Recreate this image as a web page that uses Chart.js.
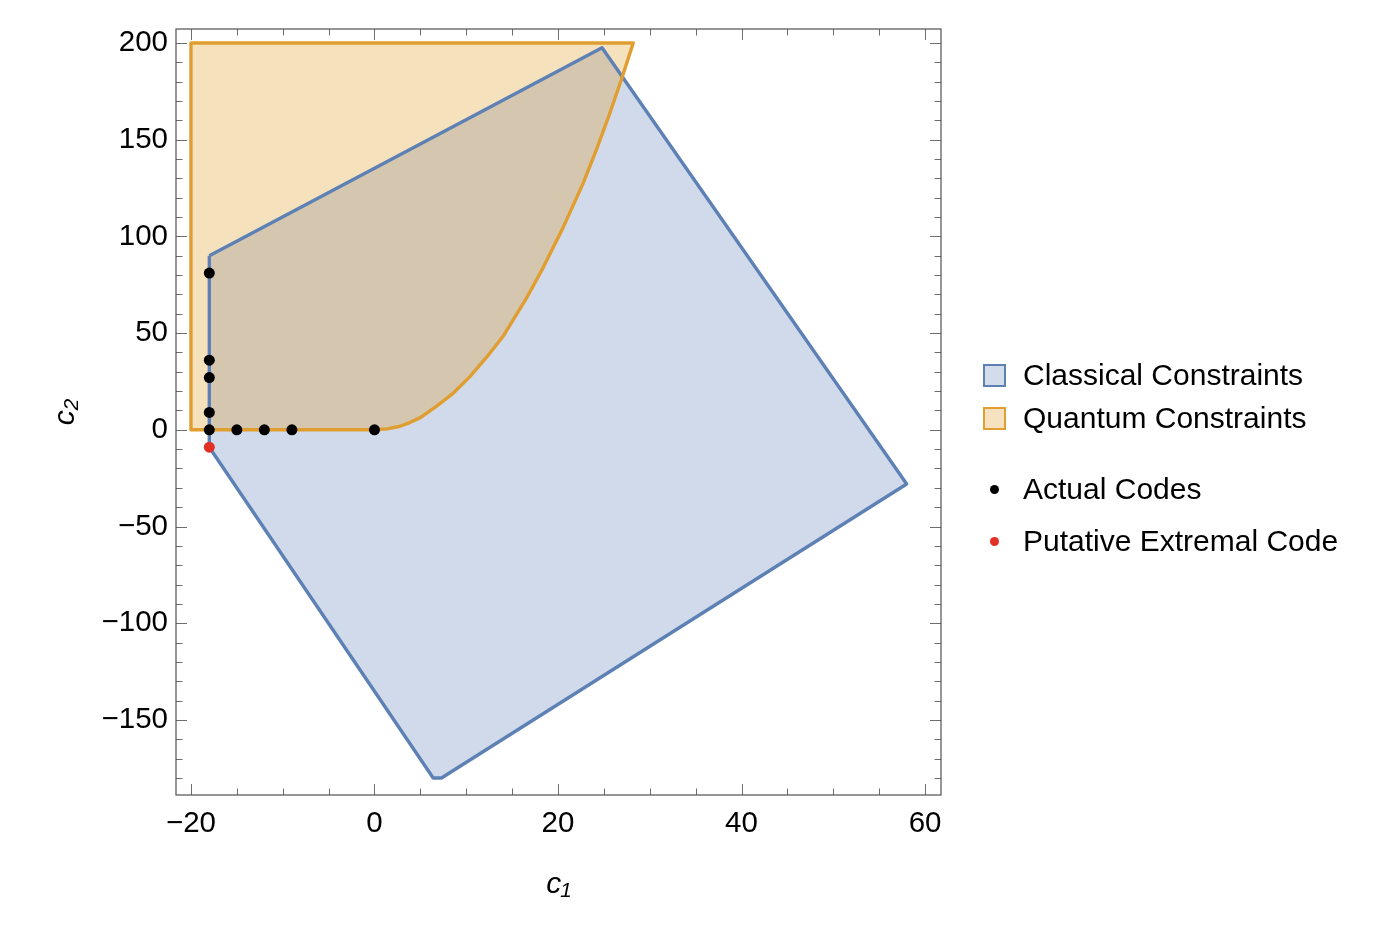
<!DOCTYPE html>
<html>
<head>
<meta charset="utf-8">
<title>Classical and quantum constraints</title>
<script src="https://cdn.jsdelivr.net/npm/chart.js@4.4.1/dist/chart.umd.min.js"></script>
<style>
  html, body { margin: 0; padding: 0; background: #fff; }
  #wrap { position: relative; width: 1380px; height: 940px; }
  #legend { position: absolute; left: 0; top: 0; font-family: 'Liberation Sans', Arial, sans-serif; font-size: 30px; color: #000; }
  .row { position: absolute; left: 983px; height: 36px; display: flex; align-items: center; transform: translateY(-50%); white-space: nowrap; }
  .box { width: 19px; height: 19px; border: 2px solid; margin-right: 17px; }
  .dot { width: 9px; height: 9px; border-radius: 50%; margin: 0 24px 0 7px; }
</style>
</head>
<body>
<div id="wrap">
  <canvas id="chart" width="1380" height="940"></canvas>
  <div id="legend"></div>
</div>
<script>
// Data

// classical constraints polygon (closed)
const classicalC1 = [-18, 24.8, 58, 7.3, 6.4, -18, -18];
const classicalC2 = [90, 197.5, -28, -180, -180, -9, 90];

// quantum constraints: left and bottom edges, the curve, then the top edge
const quantumC1 = [-20, -20, 0, 1.4, 2.7, 3.8, 5, 6.7, 8.6, 10.4, 12.2, 14, 16.5, 18.4, 20.5, 22.7, 24.2, 25.6, 26.9, 28.2, -20];
const quantumC2 = [200, 0, 0, 0.5, 1.7, 3.6, 6.3, 12, 19, 27.5, 37.4, 48.2, 67.5, 84, 104, 127, 145, 163, 181, 200, 200];

// codes
const actualC1 = [-18, -18, -18, -18, -18, -15, -12, -9, 0];
const actualC2 = [81, 36, 27, 9, 0, 0, 0, 0, 0];
const putativeC1 = [-18];
const putativeC2 = [-9];

// axis ticks
const xTicks = [-20, 0, 20, 40, 60];
const yTicks = [-150, -100, -50, 0, 50, 100, 150, 200];

const blue = 'rgb(94,129,181)';
const orange = 'rgb(224,158,48)';
const fontFamily = "'Liberation Sans', Arial, sans-serif";

function toPoints(xs, ys) {
  return xs.map(function (x, i) { return { x: x, y: ys[i] }; });
}

function minusSign(v) {
  return String(v).replace('-', '\u2212');
}

// Mathematica-style frame with inward ticks on all four sides
const frameTicks = {
  id: 'frameTicks',
  afterDatasetsDraw(chart) {
    const c = chart.ctx;
    const a = chart.chartArea;
    const x = chart.scales.x;
    const y = chart.scales.y;
    c.save();
    c.strokeStyle = '#6e6e6e';
    c.lineWidth = 1;
    c.beginPath();
    for (let v = -20; v <= 60; v += 5) {
      const px = Math.round(x.getPixelForValue(v)) + 0.5;
      const len = xTicks.indexOf(v) >= 0 ? 11 : 6.5;
      c.moveTo(px, a.bottom); c.lineTo(px, a.bottom - len);
      c.moveTo(px, a.top); c.lineTo(px, a.top + len);
    }
    for (let v = -180; v <= 200; v += 10) {
      const py = Math.round(y.getPixelForValue(v)) + 0.5;
      const len = yTicks.indexOf(v) >= 0 ? 11 : 6.5;
      c.moveTo(a.left, py); c.lineTo(a.left + len, py);
      c.moveTo(a.right, py); c.lineTo(a.right - len, py);
    }
    c.stroke();
    c.strokeStyle = '#505050';
    c.lineWidth = 1.2;
    c.strokeRect(a.left, a.top, a.right - a.left, a.bottom - a.top);
    c.restore();
  }
};

const ctx = document.getElementById('chart');
const chart = new Chart(ctx, {
  type: 'line',
  data: {
    datasets: [
      {
        label: 'Actual Codes',
        data: toPoints(actualC1, actualC2),
        showLine: false,
        pointRadius: 5.5,
        pointBorderWidth: 0,
        pointBackgroundColor: '#000',
        order: 0
      },
      {
        label: 'Putative Extremal Code',
        data: toPoints(putativeC1, putativeC2),
        showLine: false,
        pointRadius: 5.5,
        pointBorderWidth: 0,
        pointBackgroundColor: 'rgb(226,48,38)',
        order: 1
      },
      {
        label: 'Quantum Constraints',
        data: toPoints(quantumC1, quantumC2),
        borderColor: orange,
        backgroundColor: 'rgba(225,156,36,0.3)',
        borderWidth: 3.4,
        borderJoinStyle: 'round',
        pointRadius: 0,
        tension: 0,
        fill: 'shape',
        order: 2
      },
      {
        label: 'Classical Constraints',
        data: toPoints(classicalC1, classicalC2),
        borderColor: blue,
        backgroundColor: 'rgba(94,129,181,0.29)',
        borderWidth: 3.4,
        borderJoinStyle: 'round',
        pointRadius: 0,
        tension: 0,
        fill: 'shape',
        order: 3
      }
    ]
  },
  options: {
    responsive: false,
    animation: false,
    events: [],
    layout: { padding: { top: 29, right: 439, bottom: 0, left: 0 } },
    plugins: {
      legend: { display: false },
      tooltip: { enabled: false },
      filler: { drawTime: 'beforeDatasetsDraw' }
    },
    scales: {
      x: {
        type: 'linear',
        min: -21.63,
        max: 61.74,
        afterBuildTicks: function (s) { s.ticks = xTicks.map(function (v) { return { value: v }; }); },
        afterFit: function (s) { s.height = 145; },
        grid: { display: false, drawTicks: false },
        border: { display: false },
        ticks: {
          color: '#000',
          font: { family: fontFamily, size: 29.5 },
          padding: 11,
          maxRotation: 0,
          autoSkip: false,
          callback: minusSign
        },
        title: {
          display: true,
          text: 'c\u2081',
          color: '#000',
          font: { family: fontFamily, size: 30, style: 'italic' },
          padding: { top: 0, bottom: 37 }
        }
      },
      y: {
        type: 'linear',
        min: -188.8,
        max: 207.2,
        afterBuildTicks: function (s) { s.ticks = yTicks.map(function (v) { return { value: v }; }); },
        afterFit: function (s) { s.width = 176; },
        grid: { display: false, drawTicks: false },
        border: { display: false },
        ticks: {
          color: '#000',
          font: { family: fontFamily, size: 29.5 },
          padding: 8,
          autoSkip: false,
          callback: minusSign
        },
        title: {
          display: true,
          text: 'c\u2082',
          color: '#000',
          font: { family: fontFamily, size: 30, style: 'italic' },
          padding: { top: 48, bottom: 0 }
        }
      }
    }
  },
  plugins: [frameTicks]
});

// HTML legend, two groups like the original
const legendRows = [
  { label: 'Classical Constraints', kind: 'box', fill: 'rgb(210,220,234)', stroke: blue, y: 375 },
  { label: 'Quantum Constraints', kind: 'box', fill: 'rgb(246,226,192)', stroke: orange, y: 418 },
  { label: 'Actual Codes', kind: 'dot', fill: '#000', y: 489 },
  { label: 'Putative Extremal Code', kind: 'dot', fill: 'rgb(226,48,38)', y: 541 }
];
const legend = document.getElementById('legend');
legendRows.forEach(function (r) {
  const row = document.createElement('div');
  row.className = 'row';
  row.style.top = r.y + 'px';
  const mark = document.createElement('span');
  mark.className = r.kind;
  mark.style.background = r.fill;
  if (r.stroke) mark.style.borderColor = r.stroke;
  row.appendChild(mark);
  row.appendChild(document.createTextNode(r.label));
  legend.appendChild(row);
});
</script>
</body>
</html>
